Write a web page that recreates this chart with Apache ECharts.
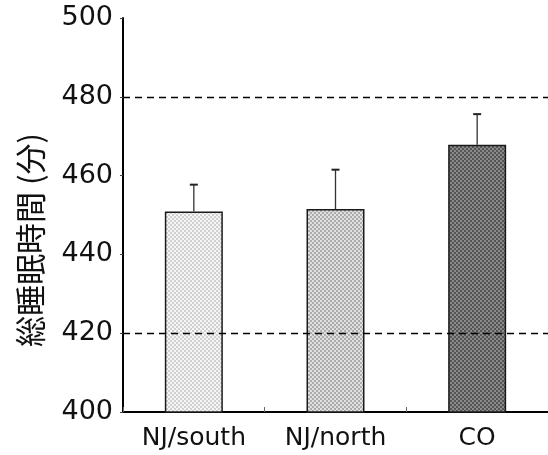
<!DOCTYPE html>
<html>
<head>
<meta charset="utf-8">
<script src="https://cdn.jsdelivr.net/npm/echarts@6/dist/echarts.min.js"></script>
<style>
  html, body { margin: 0; padding: 0; background: #fff; }
  #chart { width: 548px; height: 455px; }
</style>
</head>
<body>
<div id="chart"></div>
<script>
// Total sleep time by site (minutes), mean with upper error bar
const categories = ['NJ/south', 'NJ/north', 'CO'];
const sleepMean = [450.9, 451.5, 467.8];
const sleepErrTop = [457.7, 461.5, 475.6];
const refLines = [420, 480];
const yTicks = { min: 400, max: 500, interval: 20 };

// Checkered screen-tone fills for the bars
function tonePattern(light, dark) {
  const c = document.createElement('canvas');
  c.width = 4; c.height = 4;
  const ctx = c.getContext('2d');
  ctx.fillStyle = dark;
  ctx.fillRect(0, 0, 4, 4);
  ctx.fillStyle = light;
  ctx.fillRect(0, 0, 2, 2);
  ctx.fillRect(2, 2, 2, 2);
  return { image: c, repeat: 'repeat' };
}
const fills = [
  tonePattern('#f6f6f6', '#d0d0d0'),
  tonePattern('#e0e0e0', '#acacac'),
  tonePattern('#8a8a8a', '#555555')
];

const chart = echarts.init(document.getElementById('chart'));
chart.setOption({
  animation: false,
  grid: { left: 123, right: -10, top: 18, bottom: 43, containLabel: false },
  xAxis: {
    type: 'category',
    data: categories,
    axisLine: { lineStyle: { color: '#000', width: 2 } },
    axisTick: { show: true, inside: true, length: 5, lineStyle: { color: '#666', width: 1 } },
    axisLabel: { color: '#111', fontSize: 25, fontFamily: 'DejaVu Sans', margin: 14 }
  },
  yAxis: {
    type: 'value',
    min: yTicks.min, max: yTicks.max, interval: yTicks.interval,
    axisLine: { show: true, lineStyle: { color: '#000', width: 2 } },
    axisTick: { show: true, length: 3, lineStyle: { color: '#444' } },
    splitLine: { show: false },
    axisLabel: { color: '#111', fontSize: 27, fontFamily: 'DejaVu Sans', margin: 10 }
  },
  graphic: [{
    type: 'text',
    x: 30, y: 240,
    rotation: Math.PI / 2,
    style: {
      text: '総睡眠時間 (分)',
      font: '31px "Noto Sans CJK JP"',
      fill: '#111',
      textAlign: 'center',
      textVerticalAlign: 'middle'
    }
  }],
  series: [
    {
      // reference dashed lines behind the bars
      type: 'line',
      data: [],
      z: 1,
      markLine: {
        silent: true,
        symbol: 'none',
        label: { show: false },
        lineStyle: { color: '#000', type: [7, 5], width: 1.3 },
        data: refLines.map(v => ({ yAxis: v }))
      }
    },
    {
      type: 'bar',
      z: 2,
      barWidth: 58,
      data: sleepMean.map((v, i) => ({
        value: v,
        itemStyle: { color: fills[i] }
      })),
      itemStyle: { borderColor: '#1a1a1a', borderWidth: 1.5 }
    },
    {
      type: 'custom',
      z: 3,
      data: sleepErrTop.map((v, i) => [i, sleepMean[i], v]),
      renderItem: function (params, api) {
        const x = api.value(0);
        const base = api.coord([x, api.value(1)]);
        const top = api.coord([x, api.value(2)]);
        return {
          type: 'group',
          children: [
            { type: 'line', shape: { x1: base[0], y1: base[1], x2: top[0], y2: top[1] },
              style: { stroke: '#333', lineWidth: 1.3 } },
            { type: 'line', shape: { x1: top[0] - 4, y1: top[1], x2: top[0] + 4, y2: top[1] },
              style: { stroke: '#222', lineWidth: 2 } }
          ]
        };
      }
    }
  ]
});
</script>
</body>
</html>
